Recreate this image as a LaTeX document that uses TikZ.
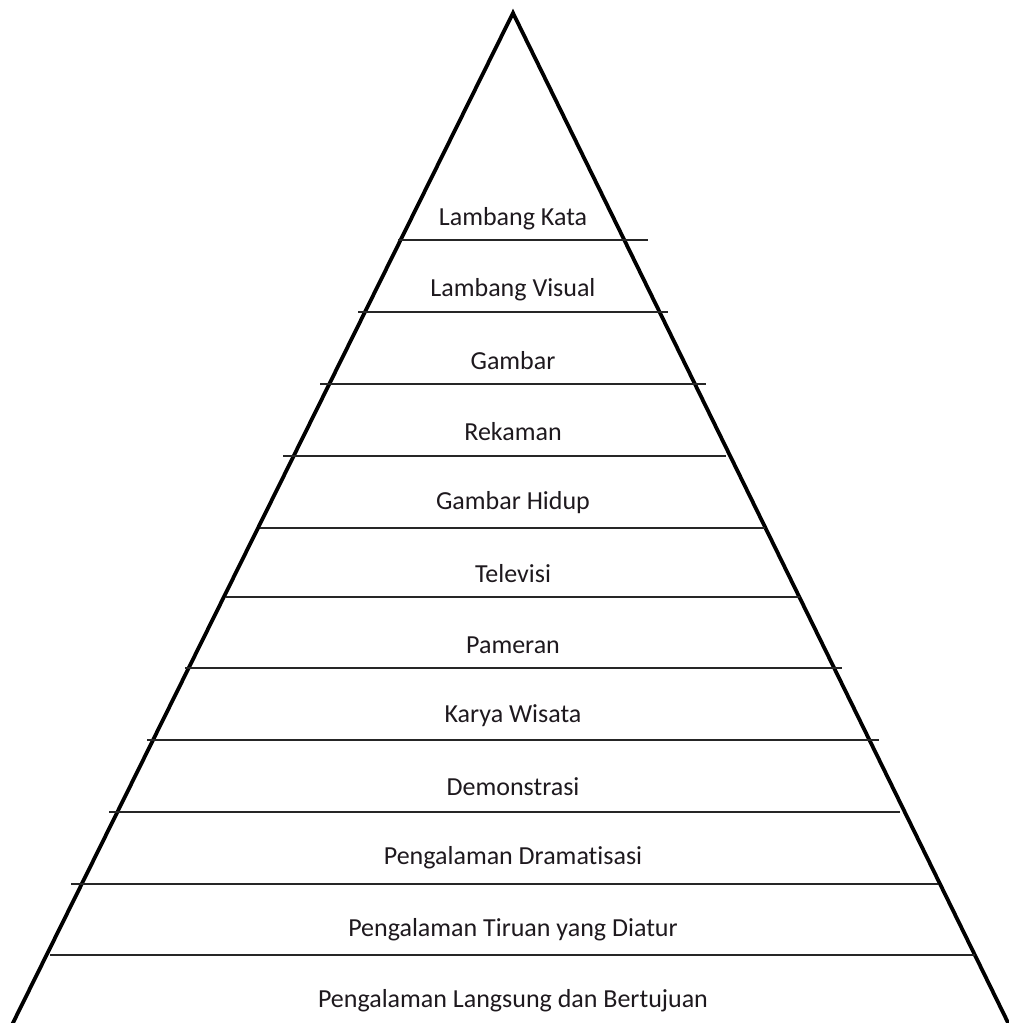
\documentclass[tikz,border=0pt]{standalone}
\usepackage{fontspec}
\setmainfont[Ligatures=NoCommon]{Carlito}
\definecolor{txt}{RGB}{30,25,30}
\begin{document}
\begin{tikzpicture}[x=1pt,y=-1pt,
  side/.style={line width=3.8pt,black},
  tier/.style={line width=2pt,black!85},
  lbl/.style={font=\fontsize{26}{28}\selectfont,text=txt,inner sep=0pt,anchor=center}]
\useasboundingbox (0,0) rectangle (1009,1023);
\begin{scope}
\clip (0,0) rectangle (1009,1023);
\coordinate (apex) at (513,13);
\coordinate (bl) at (3,1043);
\coordinate (br) at (1018,1043);
\draw[side,line join=miter] (bl) -- (apex) -- (br);
\end{scope}
% tier lines: y, left, right
\foreach \y/\l/\r [count=\i] in {240/398/648, 312/358/668, 384/320/706, 456/283/726, 528/260/765, 597/226/800, 668/185/842, 740/147/879, 812/109/900, 884/71/938, 955/50/975}{
  \coordinate (l\i) at (\l,\y);
  \coordinate (r\i) at (\r,\y);
  \draw[tier] (l\i) -- (r\i);
}
\node[lbl] (t1) at (513,219) {Lambang Kata};
\node[lbl] (t2) at (513,290) {Lambang Visual};
\node[lbl] (t3) at (513,361) {Gambar};
\node[lbl] (t4) at (513,432) {Rekaman};
\node[lbl] (t5) at (513,503) {Gambar Hidup};
\node[lbl] (t6) at (513,574) {Televisi};
\node[lbl] (t7) at (513,645) {Pameran};
\node[lbl] (t8) at (513,716) {Karya Wisata};
\node[lbl] (t9) at (513,787) {Demonstrasi};
\node[lbl] (t10) at (513,858) {Pengalaman Dramatisasi};
\node[lbl] (t11) at (513,930) {Pengalaman Tiruan yang Diatur};
\node[lbl] (t12) at (513,1001) {Pengalaman Langsung dan Bertujuan};
\end{tikzpicture}
\end{document}
